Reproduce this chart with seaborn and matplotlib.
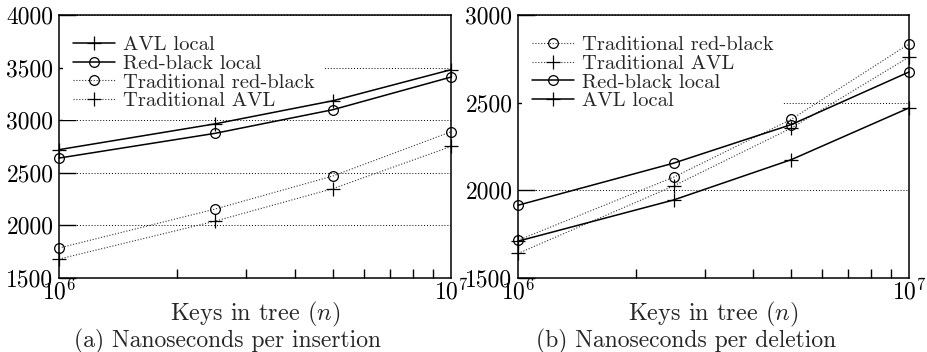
import matplotlib
matplotlib.use("Agg")
import matplotlib.pyplot as plt
import seaborn as sns
import numpy as np
from matplotlib.ticker import FixedLocator, NullFormatter, FixedFormatter

# ---- data ----
keys = [1e6, 2.5e6, 5e6, 1e7]

ins_labels = ["AVL local", "Red-black local", "Traditional red-black", "Traditional AVL"]
ins_avl_local = [2720, 2965, 3185, 3480]
ins_rb_local = [2640, 2875, 3100, 3410]
ins_trad_rb = [1785, 2155, 2470, 2890]
ins_trad_avl = [1680, 2040, 2350, 2750]

del_labels = ["Traditional red-black", "Traditional AVL", "Red-black local", "AVL local"]
del_trad_rb = [1715, 2075, 2405, 2835]
del_trad_avl = [1640, 2025, 2355, 2760]
del_rb_local = [1915, 2155, 2375, 2675]
del_avl_local = [1710, 1945, 2175, 2470]

ins_yticks = [1500, 2000, 2500, 3000, 3500, 4000]
del_yticks = [1500, 2000, 2500, 3000]
xtick_labels = [r"$10^6$", r"$10^7$"]
xlabel = "Keys in tree ($n$)"
captions = ["(a) Nanoseconds per insertion", "(b) Nanoseconds per deletion"]

sns.set_style("ticks")
FS_LEG = 14.8
FS_TICK = 17
FS_LAB = 17.5
FS_CAP = 17
plt.rcParams["font.family"] = ["cmr10", "DejaVu Serif"]
plt.rcParams["mathtext.fontset"] = "cm"
plt.rcParams["axes.formatter.use_mathtext"] = True
plt.rcParams["font.size"] = FS_LEG

styles = {
    "AVL local": ("solid", "+"),
    "Red-black local": ("solid", "o"),
    "Traditional red-black": ("dotted", "o"),
    "Traditional AVL": ("dotted", "+"),
}

W, H = 927, 352
AX_H = 278 - 15
fig = plt.figure(figsize=(W/100, H/100), dpi=100)
ax1 = fig.add_axes([59/W, 1-278/H, (451-59)/W, AX_H/H])
ax2 = fig.add_axes([518/W, 1-278/H, (909-518)/W, AX_H/H])

panels = [
    (ax1, ins_labels, [ins_avl_local, ins_rb_local, ins_trad_rb, ins_trad_avl], ins_yticks, captions[0], 227, 451-59),
    (ax2, del_labels, [del_trad_rb, del_trad_avl, del_rb_local, del_avl_local], del_yticks, captions[1], 686, 909-518),
]

for ax, labels, data, yt, cap, capx, axw in panels:
    for lab, vals in zip(labels, data):
        ls, mk = styles[lab]
        ms = 9.5 if mk == "+" else 7
        sns.lineplot(x=keys, y=vals, ax=ax, color="black", marker=mk, label=lab,
                     linewidth=1.1 if ls == "solid" else 0.8,
                     markersize=ms, markerfacecolor="none", markeredgecolor="black",
                     markeredgewidth=0.9, clip_on=False, zorder=3)
        line = ax.lines[-1]
        if ls == "dotted":
            line.set_dashes((1, 1.6))
            line.set_color("#333333")
            line.set_markeredgecolor("black")
    ax.set_xscale("log")
    ax.set_xlim(1e6, 1e7)
    ax.set_ylim(yt[0], yt[-1])
    ax.xaxis.set_major_locator(FixedLocator([1e6, 1e7]))
    ax.xaxis.set_major_formatter(FixedFormatter(xtick_labels))
    ax.xaxis.set_minor_locator(FixedLocator([k * 1e6 for k in range(2, 10)]))
    ax.xaxis.set_minor_formatter(NullFormatter())
    ax.set_yticks(yt)
    ax.set_yticklabels([str(v) for v in yt])
    ax.tick_params(axis="both", which="both", direction="in", top=False, right=False,
                   colors="black", width=1)
    ax.tick_params(axis="y", which="major", length=12, pad=4, labelsize=FS_TICK)
    ax.tick_params(axis="x", which="major", length=0, pad=1, labelsize=FS_TICK)
    ax.tick_params(axis="x", which="minor", length=6.5)
    for s in ax.spines.values():
        s.set_color("black")
        s.set_linewidth(1.1)
        s.set_visible(True)
    ax.set_axisbelow(True)
    ax.grid(axis="y", which="major", color="black", linewidth=0.7, linestyle=(0, (1, 2)))
    ax.grid(axis="x", visible=False)
    ax.set_xlabel(xlabel, fontsize=FS_LAB, va="center")
    ax.xaxis.set_label_coords(0.5, -36/AX_H)
    ax.set_ylabel("")
    leg = ax.legend(loc="upper left", bbox_to_anchor=(-7/axw, 1.0), frameon=True,
                    fontsize=FS_LEG, handlelength=2.05,
                    handletextpad=0.4, labelspacing=0.02, borderaxespad=0.55,
                    borderpad=0.45, fancybox=False)
    leg.get_frame().set_facecolor("white")
    leg.get_frame().set_edgecolor("none")
    leg.get_frame().set_alpha(1)
    leg.set_zorder(2.5)
    fig.text(capx/W, 1-341/H, cap, ha="center", va="center", fontsize=FS_CAP)

fig.savefig("out.png", dpi=100, facecolor="white")
